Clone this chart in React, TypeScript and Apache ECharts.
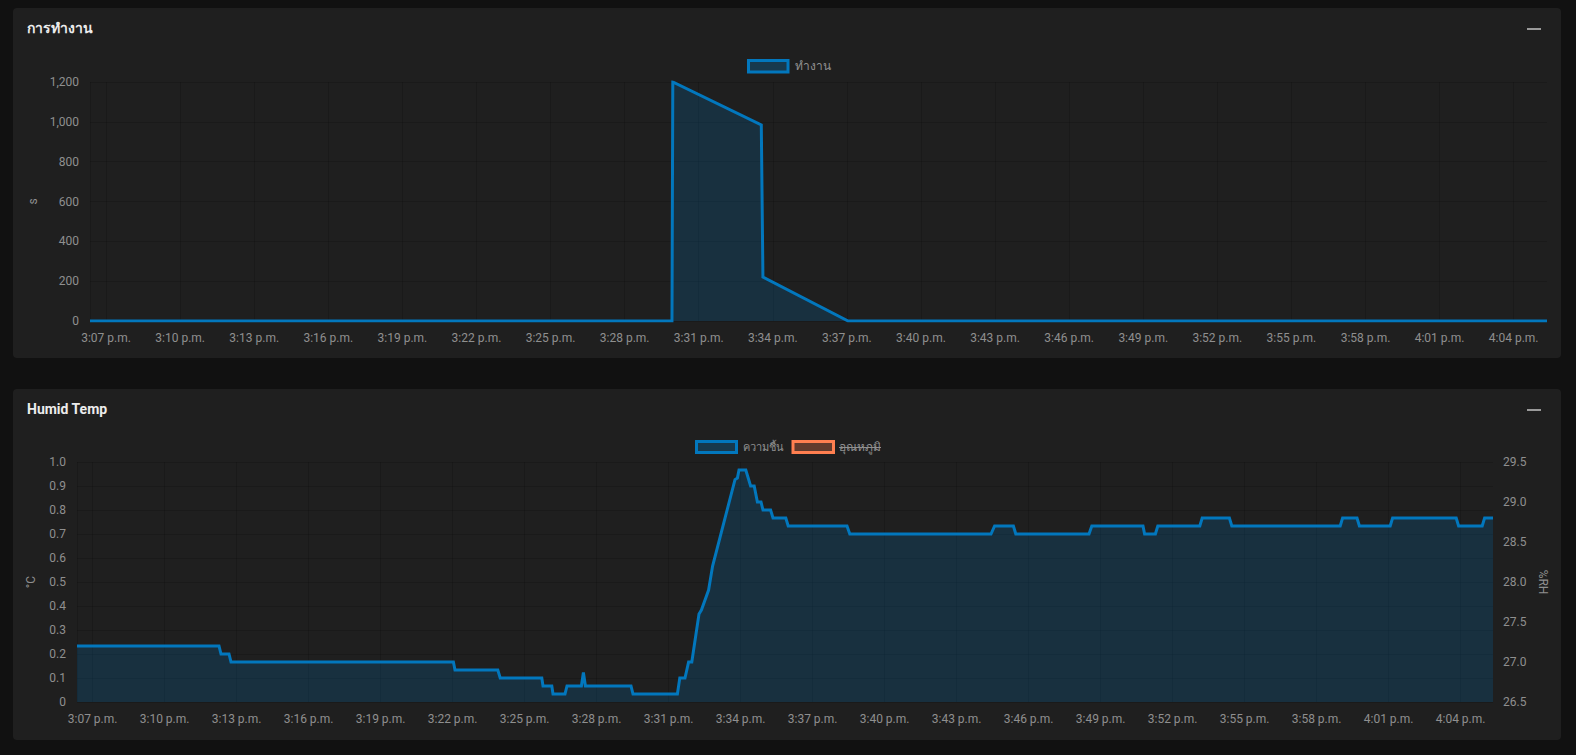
import React, { useEffect, useRef } from "react";
import * as echarts from "echarts";

// ---- data ----
const windowStart = "15:06:21";
const windowEnd = "16:05:21";

const timeTickLabels = [
  "3:07 p.m.", "3:10 p.m.", "3:13 p.m.", "3:16 p.m.", "3:19 p.m.", "3:22 p.m.",
  "3:25 p.m.", "3:28 p.m.", "3:31 p.m.", "3:34 p.m.", "3:37 p.m.", "3:40 p.m.",
  "3:43 p.m.", "3:46 p.m.", "3:49 p.m.", "3:52 p.m.", "3:55 p.m.", "3:58 p.m.",
  "4:01 p.m.", "4:04 p.m.",
];

const workTimes = ["15:06:21", "15:29:55", "15:29:57", "15:33:32", "15:33:36", "15:37:03", "16:05:21"];
const workValues = [0, 0, 1200, 985, 221, 0, 0];

const humidTimes = [
  "15:06:21", "15:12:16", "15:12:21", "15:12:41", "15:12:46", "15:22:02", "15:22:06",
  "15:23:53", "15:23:59", "15:25:43", "15:25:46", "15:26:08", "15:26:11", "15:26:41",
  "15:26:46", "15:27:22", "15:27:27", "15:27:32", "15:29:26", "15:29:31", "15:31:22",
  "15:31:28", "15:31:41", "15:31:50", "15:31:58", "15:32:16", "15:32:22", "15:32:40",
  "15:32:50", "15:33:46", "15:33:52", "15:33:56", "15:34:13", "15:34:19", "15:34:25",
  "15:34:34", "15:34:42", "15:34:51", "15:34:56", "15:35:15", "15:35:21", "15:35:53",
  "15:35:59", "15:38:26", "15:38:33", "15:44:26", "15:44:35", "15:45:22", "15:45:28",
  "15:48:31", "15:48:38", "15:50:46", "15:50:50", "15:51:17", "15:51:23", "15:53:08",
  "15:53:14", "15:54:22", "15:54:28", "15:58:59", "15:59:05", "15:59:41", "15:59:47",
  "16:01:04", "16:01:10", "16:03:49", "16:03:55", "16:04:54", "16:05:00", "16:05:21",
];
const humidValues = [
  27.2, 27.2, 27.1, 27.1, 27.0, 27.0, 26.9,
  26.9, 26.8, 26.8, 26.7, 26.7, 26.6, 26.6,
  26.7, 26.7, 26.87, 26.7, 26.7, 26.6, 26.6,
  26.8, 26.8, 27.0, 27.0, 27.6, 27.65, 27.9,
  28.2, 29.28, 29.3, 29.4, 29.4, 29.3, 29.2,
  29.2, 29.0, 29.0, 28.9, 28.9, 28.8, 28.8,
  28.7, 28.7, 28.6, 28.6, 28.7, 28.7, 28.6,
  28.6, 28.7, 28.7, 28.6, 28.6, 28.7, 28.7,
  28.8, 28.8, 28.7, 28.7, 28.8, 28.8, 28.7,
  28.7, 28.8, 28.8, 28.7, 28.7, 28.8, 28.8,
];

const workTicks = [0, 200, 400, 600, 800, 1000, 1200];
const tempTicks = [0, 0.1, 0.2, 0.3, 0.4, 0.5, 0.6, 0.7, 0.8, 0.9, 1.0];
const humidTicks = [26.5, 27.0, 27.5, 28.0, 28.5, 29.0, 29.5];

const cardTitles = ["การทำงาน", "Humid Temp"];
const legendWork = ["ทำงาน"];
const legendHumid = ["ความชื้น", "อุณหภูมิ"];

// ---- helpers ----
const toMin = (s: string) => {
  const [h, m, sec] = s.split(":").map(Number);
  return (h - 15) * 60 + m + (sec || 0) / 60;
};
const labelToMin = (l: string) => {
  const [hm] = l.split(" ");
  const [h, m] = hm.split(":").map(Number);
  return (h + 12 - 15) * 60 + m;
};

const FONT = "Roboto, 'Noto Sans', 'DejaVu Sans', sans-serif";
const LABEL = "#8f8f8f";
const GRID = "rgba(0,0,0,0.14)";
const BLUE = "#0277bd";
const BLUE_FILL = "rgba(2,119,189,0.29)";
const ORANGE = "#ff7f50";
const ORANGE_FILL = "rgba(255,127,80,0.3)";

export default function App() {
  const ref = useRef<HTMLDivElement>(null);

  useEffect(() => {
    document.body.style.margin = "0";
    document.body.style.background = "#111111";
    if (!ref.current) return;
    const chart = echarts.init(ref.current, undefined, { renderer: "svg" });

    const xMin = toMin(windowStart);
    const xMax = toMin(windowEnd);
    const tickMins = timeTickLabels.map(labelToMin);
    const fmtTime = (v: number) => {
      const i = tickMins.findIndex((t) => Math.abs(t - v) < 1e-6);
      return i >= 0 ? timeTickLabels[i] : "";
    };

    const canvas = document.createElement("canvas");
    const ctx = canvas.getContext("2d")!;
    ctx.font = `12px ${FONT}`;
    const strikeW = ctx.measureText(legendHumid[1]).width;

    const xAxisBase = (gridIndex: number) => ({
      type: "value",
      gridIndex,
      min: xMin,
      max: xMax,
      axisLine: { show: false },
      axisTick: { show: false, customValues: [xMin, ...tickMins] },
      axisLabel: {
        customValues: tickMins,
        formatter: fmtTime,
        color: LABEL,
        fontSize: 12,
        fontFamily: FONT,
        margin: gridIndex === 0 ? 11 : 11,
        showMinLabel: true,
        showMaxLabel: true,
      },
      splitLine: { show: true, lineStyle: { color: GRID, width: 1 } },
    });

    const yName = {
      nameLocation: "middle",
      nameTextStyle: { color: LABEL, fontSize: 12, fontFamily: FONT },
    };

    const lineCommon = {
      type: "line",
      showSymbol: false,
      symbol: "none",
      lineStyle: { color: BLUE, width: 3, join: "miter", miterLimit: 10 },
      itemStyle: { color: BLUE },
      areaStyle: { color: BLUE_FILL, origin: "start" },
    };

    const option: any = {
      animation: false,
      backgroundColor: "#111111",
      grid: [
        { left: 90, top: 82, right: 29, bottom: 434 },
        { left: 77, top: 462, right: 83, bottom: 53 },
      ],
      xAxis: [xAxisBase(0), xAxisBase(1)],
      yAxis: [
        {
          type: "value",
          gridIndex: 0,
          min: workTicks[0],
          max: workTicks[workTicks.length - 1],
          interval: workTicks[1] - workTicks[0],
          name: "s",
          nameGap: 50,
          ...yName,
          axisLine: { show: false },
          axisTick: { show: false },
          axisLabel: {
            color: LABEL, fontSize: 12, fontFamily: FONT, margin: 11,
            formatter: (v: number) => v.toLocaleString("en-US"),
          },
          splitLine: { show: true, lineStyle: { color: GRID } },
        },
        {
          type: "value",
          gridIndex: 1,
          min: tempTicks[0],
          max: tempTicks[tempTicks.length - 1],
          interval: 0.1,
          name: "°C",
          nameGap: 40,
          ...yName,
          axisLine: { show: false },
          axisTick: { show: false },
          axisLabel: {
            color: LABEL, fontSize: 12, fontFamily: FONT, margin: 11,
            formatter: (v: number) => (v === 0 ? "0" : v.toFixed(1)),
          },
          splitLine: { show: true, lineStyle: { color: GRID } },
        },
        {
          type: "value",
          gridIndex: 1,
          position: "right",
          min: humidTicks[0],
          max: humidTicks[humidTicks.length - 1],
          interval: 0.5,
          name: "%RH",
          nameGap: 42,
          nameRotate: -90,
          ...yName,
          axisLine: { show: false },
          axisTick: { show: false },
          axisLabel: {
            color: LABEL, fontSize: 12, fontFamily: FONT, margin: 10,
            formatter: (v: number) => v.toFixed(1),
          },
          splitLine: { show: false },
        },
      ],
      series: [
        {
          ...lineCommon,
          name: legendWork[0],
          xAxisIndex: 0,
          yAxisIndex: 0,
          data: workTimes.map((t, i) => [toMin(t), workValues[i]]),
        },
        {
          ...lineCommon,
          name: legendHumid[0],
          xAxisIndex: 1,
          yAxisIndex: 2,
          data: humidTimes.map((t, i) => [toMin(t), humidValues[i]]),
        },
      ],
      graphic: [
        // cards
        { type: "rect", z: -10, shape: { x: 13, y: 8, width: 1548, height: 350, r: 4 }, style: { fill: "#1f1f1f" } },
        { type: "rect", z: -10, shape: { x: 13, y: 389, width: 1548, height: 351, r: 4 }, style: { fill: "#1f1f1f" } },
        // titles
        { type: "text", x: 27, y: 28, style: { text: cardTitles[0], fill: "#ececec", font: `bold 14px ${FONT}`, verticalAlign: "middle" } },
        { type: "text", x: 27, y: 409, style: { text: cardTitles[1], fill: "#ececec", font: `bold 14px ${FONT}`, verticalAlign: "middle" } },
        // minimize icons
        { type: "rect", shape: { x: 1527, y: 28, width: 14, height: 2 }, style: { fill: "#9a9a9a" } },
        { type: "rect", shape: { x: 1527, y: 409, width: 14, height: 2 }, style: { fill: "#9a9a9a" } },
        // legend top
        { type: "rect", shape: { x: 748.5, y: 60.5, width: 39.5, height: 11.5 }, style: { fill: BLUE_FILL, stroke: BLUE, lineWidth: 3 } },
        { type: "text", x: 795, y: 66, style: { text: legendWork[0], fill: LABEL, font: `12px ${FONT}`, verticalAlign: "middle" } },
        // legend bottom
        { type: "rect", shape: { x: 696.5, y: 441.5, width: 40, height: 11 }, style: { fill: BLUE_FILL, stroke: BLUE, lineWidth: 3 } },
        { type: "text", x: 743, y: 447, style: { text: legendHumid[0], fill: LABEL, font: `11px ${FONT}`, verticalAlign: "middle" } },
        { type: "rect", shape: { x: 793, y: 441.5, width: 40.5, height: 11 }, style: { fill: ORANGE_FILL, stroke: ORANGE, lineWidth: 3 } },
        { type: "text", x: 839, y: 447, style: { text: legendHumid[1], fill: LABEL, font: `12px ${FONT}`, verticalAlign: "middle" } },
        { type: "line", shape: { x1: 839, y1: 447.5, x2: 839 + strikeW, y2: 447.5 }, style: { stroke: LABEL, lineWidth: 1 } },
      ],
    };

    chart.setOption(option);
    return () => chart.dispose();
  }, []);

  return (
    <div
      ref={ref}
      style={{ position: "fixed", left: 0, top: 0, width: 1576, height: 755 }}
    />
  );
}
